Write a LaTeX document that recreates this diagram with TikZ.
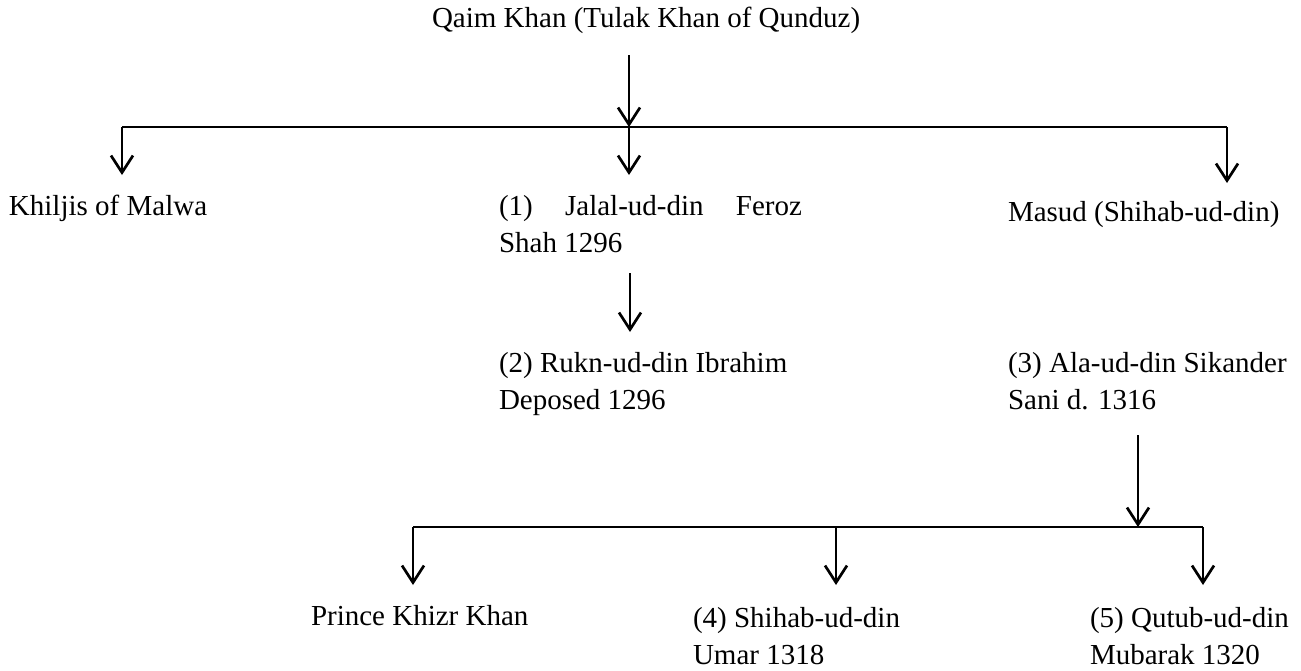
\documentclass[tikz,border=0pt]{standalone}
\usepackage{fontspec}
\setmainfont{Liberation Serif}
\usetikzlibrary{arrows.meta}
\begin{document}
\begin{tikzpicture}[x=1pt,y=-1pt,
  lbl/.style={anchor=base west,inner sep=0pt,outer sep=0pt,font=\fontsize{29}{37}\selectfont},
  conn/.style={line width=2.7pt},
  arr/.style={conn,-{Straight Barb[length=17pt,width=22pt]}}]
\useasboundingbox (0,0) rectangle (1301,670);
% text nodes
\node[lbl] (qaim) at (432,27) {Qaim Khan (Tulak Khan of Qunduz)};
\node[lbl] (khil) at (9,215) {Khiljis of Malwa};
\node[lbl] (jalal) at (499,215) {\begin{tabular}[t]{@{}l@{}}\hbox to 303pt{(1)\hfill Jalal-ud-din\hfill Feroz}\\Shah 1296\end{tabular}};
\node[lbl] (masud) at (1008,221) {Masud (Shihab-ud-din)};
\node[lbl] (rukn) at (499,372) {\begin{tabular}[t]{@{}l@{}}(2) Rukn-ud-din Ibrahim\\Deposed 1296\end{tabular}};
\node[lbl] (ala) at (1008,372) {\begin{tabular}[t]{@{}l@{}}(3) Ala-ud-din Sikander\\Sani d. 1316\end{tabular}};
\node[lbl] (khizr) at (311,625) {Prince Khizr Khan};
\node[lbl] (umar) at (693,627) {\begin{tabular}[t]{@{}l@{}}(4) Shihab-ud-din\\Umar 1318\end{tabular}};
\node[lbl] (qutub) at (1090,627) {\begin{tabular}[t]{@{}l@{}}(5) Qutub-ud-din\\Mubarak 1320\end{tabular}};
% connector points
\coordinate (a0) at (629,55);
\coordinate (b1) at (629,127);
\coordinate (bL) at (122,127);
\coordinate (bR) at (1227,127);
\coordinate (tK) at (122,175);
\coordinate (tJ) at (629,175);
\coordinate (tM) at (1227,183);
\coordinate (a1) at (630,273);
\coordinate (tR) at (630,332);
\coordinate (a2) at (1138,435);
\coordinate (b2) at (1138,527);
\coordinate (cL) at (413,527);
\coordinate (cM) at (836,527);
\coordinate (cR) at (1203,527);
\coordinate (tP) at (413,585);
\coordinate (tU) at (836,585);
\coordinate (tQ) at (1203,585);
% connectors
\draw[arr] (a0) -- (b1);
\draw[conn] (bL) -- (bR);
\draw[arr] (bL) -- (tK);
\draw[arr] (b1) -- (tJ);
\draw[arr] (bR) -- (tM);
\draw[arr] (a1) -- (tR);
\draw[arr] (a2) -- (b2);
\draw[conn] (cL) -- (cR);
\draw[arr] (cL) -- (tP);
\draw[arr] (cM) -- (tU);
\draw[arr] (cR) -- (tQ);
\end{tikzpicture}
\end{document}
